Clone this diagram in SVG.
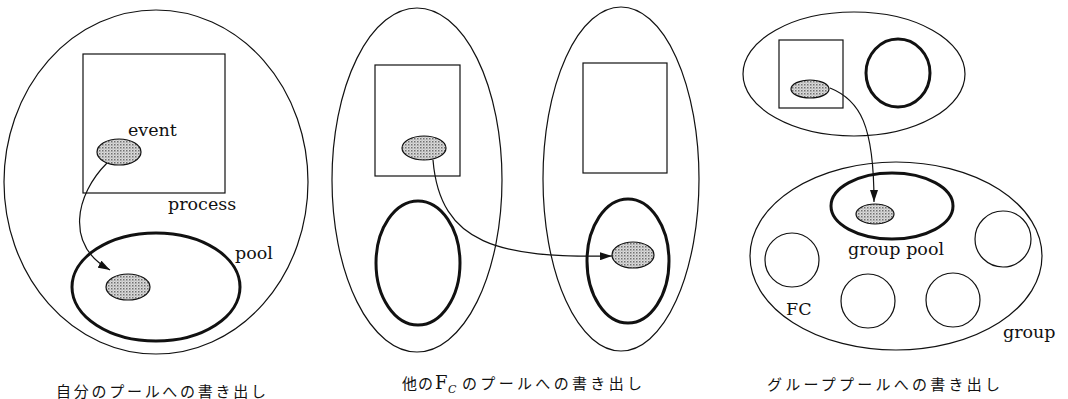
<svg xmlns="http://www.w3.org/2000/svg" width="1068" height="399" viewBox="0 0 1068 399">
<defs>
<pattern id="stip" width="3" height="3" patternUnits="userSpaceOnUse">
<rect width="3" height="3" fill="#dcdcdc"/>
<rect width="1.5" height="1.5" fill="#707070"/>
<rect x="1.5" y="1.5" width="1" height="1" fill="#9a9a9a"/>
</pattern>
<marker id="ah" viewBox="0 0 12 8" refX="12" refY="4" markerWidth="12" markerHeight="8" markerUnits="userSpaceOnUse" orient="auto">
<path d="M0,0 L12,4 L0,8 Z" fill="#111"/>
</marker>
</defs>
<style>
.thin{fill:none;stroke:#111;stroke-width:1.2}
.thick{fill:none;stroke:#111;stroke-width:3}
.ev{fill:url(#stip);stroke:#111;stroke-width:1.2}
.lbl{font-family:"DejaVu Serif","Liberation Serif",serif;font-size:17.5px;fill:#111}
.cap{font-family:"Noto Sans CJK JP","Liberation Sans",sans-serif;font-size:15px;fill:#111}
.capf{font-family:"DejaVu Serif","Liberation Serif",serif;fill:#111}
.conn{fill:none;stroke:#111;stroke-width:1.2}
</style>
<rect width="1068" height="399" fill="#fff"/>

<g id="panel1">
<ellipse id="p1-outer" class="thin" cx="156" cy="182" rx="152" ry="172"/>
<g id="p1-process"><rect class="thin" x="83" y="54" width="142" height="139"/>
<text class="lbl" x="168" y="210">process</text></g>
<g id="p1-event"><ellipse class="ev" cx="119" cy="152" rx="22" ry="13"/>
<text class="lbl" x="128" y="136">event</text></g>
<g id="p1-pool"><ellipse class="thick" cx="156" cy="287" rx="84" ry="54"/>
<text class="lbl" x="235" y="259">pool</text></g>
<g id="p1-event2"><ellipse class="ev" cx="128" cy="287" rx="22" ry="13"/></g>
<text class="cap" x="56" y="397" textLength="210" lengthAdjust="spacing">自分のプールへの書き出し</text>
</g>

<g id="panel2">
<g id="p2-left"><ellipse class="thin" cx="417" cy="180" rx="85" ry="172"/></g>
<g id="p2-left-proc"><rect class="thin" x="375" y="65" width="85" height="111"/></g>
<g id="p2-left-event"><ellipse class="ev" cx="424" cy="148" rx="22" ry="12"/></g>
<g id="p2-left-pool"><ellipse class="thick" cx="418" cy="263" rx="42" ry="62"/></g>
<g id="p2-right"><ellipse class="thin" cx="621" cy="179" rx="78" ry="172"/></g>
<g id="p2-right-proc"><rect class="thin" x="583" y="63" width="84" height="110"/></g>
<g id="p2-right-pool"><ellipse class="thick" cx="628" cy="261" rx="41" ry="62"/></g>
<g id="p2-right-event"><ellipse class="ev" cx="633" cy="255" rx="21" ry="13"/></g>
<text class="cap" y="389"><tspan x="402" textLength="31" lengthAdjust="spacing">他の</tspan><tspan class="capf" x="435" font-size="18">F</tspan><tspan class="capf" x="448" font-size="11" font-style="italic" dy="4">C</tspan><tspan x="462" dy="-4" textLength="180" lengthAdjust="spacing">のプールへの書き出し</tspan></text>
</g>

<g id="panel3">
<g id="p3-top"><ellipse class="thin" cx="854" cy="74" rx="111" ry="62"/></g>
<g id="p3-proc"><rect class="thin" x="779" y="40" width="64" height="68"/></g>
<g id="p3-event"><ellipse class="ev" cx="810" cy="89" rx="19" ry="9"/></g>
<g id="p3-topcircle"><ellipse class="thick" cx="898" cy="73" rx="32" ry="34"/></g>
<g id="p3-group"><ellipse class="thin" cx="896" cy="256" rx="146" ry="94"/>
<text class="lbl" x="1003" y="338">group</text></g>
<g id="p3-gpool"><ellipse class="thick" cx="892" cy="206" rx="61" ry="33"/>
<text class="lbl" x="848" y="255">group pool</text></g>
<g id="p3-gevent"><ellipse class="ev" cx="875" cy="214" rx="19" ry="10"/></g>
<g id="p3-fc1"><circle class="thin" cx="792" cy="260" r="27"/>
<text class="lbl" x="786" y="315">FC</text></g>
<g id="p3-fc2"><circle class="thin" cx="868" cy="301" r="27"/></g>
<g id="p3-fc3"><circle class="thin" cx="953" cy="300" r="27"/></g>
<g id="p3-fc4"><circle class="thin" cx="1003" cy="239" r="28"/></g>
<text class="cap" x="767" y="390" textLength="233" lengthAdjust="spacing">グループプールへの書き出し</text>
</g>

<g id="connectors">
<path class="conn" d="M107,163 C75,195 65,245 110,270" marker-end="url(#ah)"/>
<path class="conn" d="M433,160 C440,245 500,258 612,256" marker-end="url(#ah)"/>
<path class="conn" d="M830,88 C860,100 874,125 874,202" marker-end="url(#ah)"/>
</g>
</svg>
